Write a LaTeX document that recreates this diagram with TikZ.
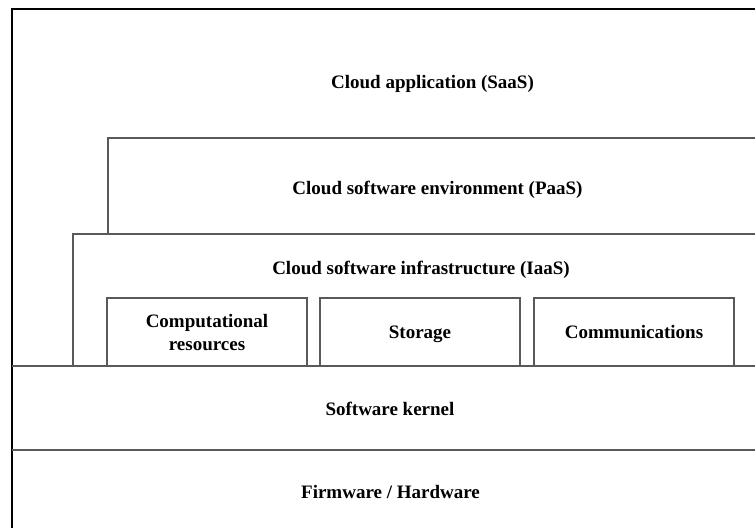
\documentclass[tikz,border=0pt]{standalone}
\usepackage{fontspec}
\setmainfont{Liberation Serif}
\usetikzlibrary{positioning}
\tikzset{layer label/.style={font=\bfseries\fontsize{19}{23}\selectfont,align=center},
            layer text/.style={layer label,anchor=base,inner sep=0pt},
            layer line/.style={draw=black!65,line width=1.3pt},
            outer line/.style={draw=black,line width=1.5pt},
            sub box/.style={layer line,minimum width=200pt,minimum height=68pt,inner sep=0pt,outer sep=0pt,text depth=0pt,layer label},
            }

\begin{document}
\begin{tikzpicture}[x=1pt,y=-1pt]
    \useasboundingbox (0,0) rectangle (755,528);

    % layers, open to the right
    \draw[outer line] (755,9) -- (12,9) -- (12,528);
    \draw[layer line] (108,234) |- (755,138);
    \draw[layer line] (73,366) |- (755,234);
    \draw[layer line] (12,366) -- (755,366);
    \draw[layer line] (12,450) -- (755,450);

    \node[layer text] (saas) at (432.5,88) {Cloud application (SaaS)};
    \node[layer text] (paas) at (437.5,194) {Cloud software environment (PaaS)};
    \node[layer text] (iaas) at (421,274) {Cloud software infrastructure (IaaS)};
    \node[sub box] (comp) at (207,332) {Computational\\resources};
    \node[sub box] (stor) [right = 13pt of comp] {Storage};
    \node[sub box] (comm) [right = 14pt of stor] {Communications};
    \node[layer text] (kern) at (390,415) {Software kernel};
    \node[layer text] (firm) at (390.5,498) {Firmware / Hardware};
    %%

\end{tikzpicture}
\end{document}
